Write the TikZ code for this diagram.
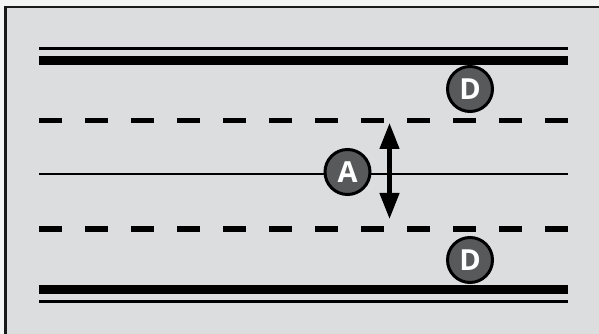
\documentclass[tikz,border=0pt]{standalone}
\usepackage{fontspec}
\setmainfont{Open Sans}
\usetikzlibrary{arrows.meta}
\definecolor{bgout}{HTML}{F3F4F4}
\definecolor{panel}{HTML}{DCDDDF}
\definecolor{disc}{HTML}{58595B}
\begin{document}
\begin{tikzpicture}[x=1pt,y=1pt,
  marker/.style={circle, draw=black, line width=3pt, fill=disc, minimum size=45pt, inner sep=0pt,
    text=white, font=\fontsize{29}{29}\selectfont\bfseries},
  laneline/.style={line width=5.5pt, dash pattern=on 23pt off 23pt, line cap=butt},
  edgethin/.style={line width=3pt},
  edgethick/.style={line width=8.5pt},
  centerline/.style={line width=2pt}]
\useasboundingbox (0,0) rectangle (599,334);
\clip (0,0) rectangle (599,334);
\fill[bgout] (0,0) rectangle (599,334);
\filldraw[fill=panel, draw=black!90, line width=2.5pt] (5.5,-10) rectangle (620,327);
% road edges
\draw[edgethin] (39,285.5) -- (568,285.5);
\draw[edgethick] (39,273.5) -- (568,273.5);
\draw[edgethick] (39,44.7) -- (568,44.7);
\draw[edgethin] (39,32.5) -- (568,32.5);
% lane lines
\draw[laneline] (39,213.7) -- (568,213.7);
\draw[laneline] (39,105) -- (568,105);
% centre line
\draw[centerline] (39,160) -- (568,160);
% markers
\node[marker] (A) at (347.5,162) {A};
\node[marker] (D1) at (470,245) {D};
\node[marker] (D2) at (470,74) {D};
% double arrow
\coordinate (up) at (389.5,211);
\coordinate (dn) at (389.5,115);
\draw[line width=4.5pt, {Triangle[width=19pt,length=26pt]}-{Triangle[width=19pt,length=26pt]}] (up) -- (dn);
\end{tikzpicture}
\end{document}
